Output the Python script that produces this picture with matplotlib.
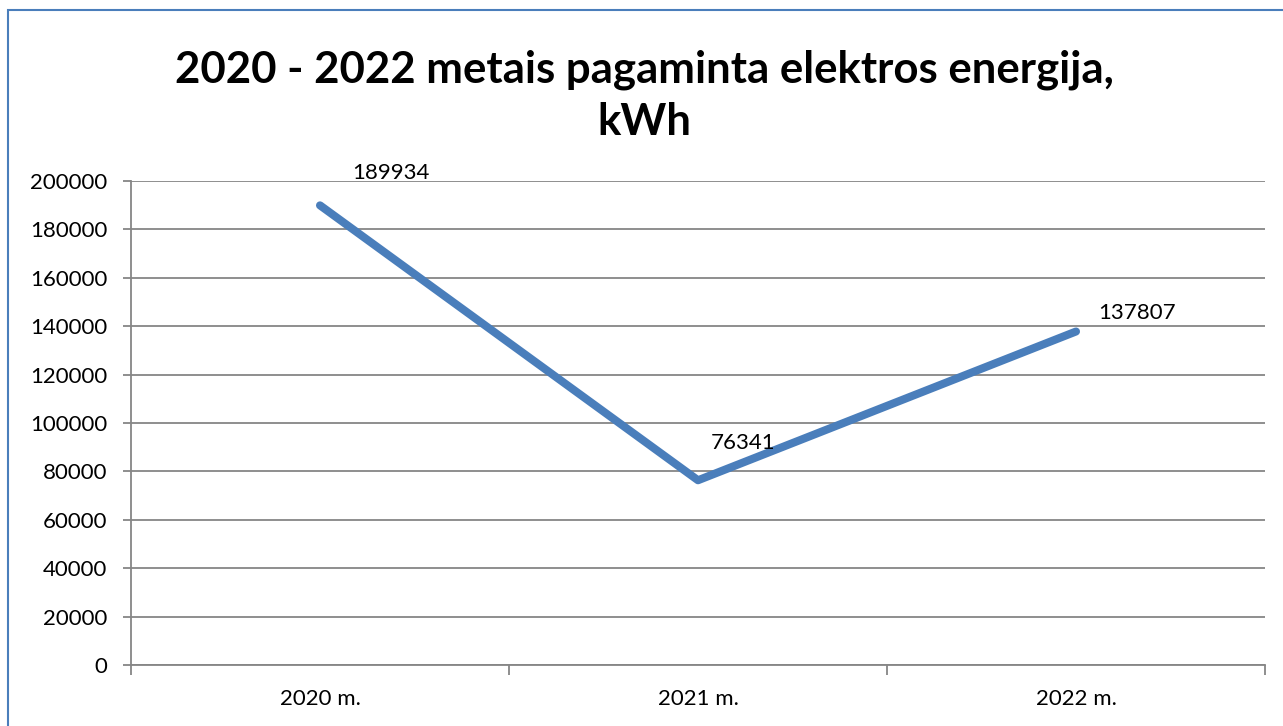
import matplotlib.pyplot as plt
from matplotlib.patches import Rectangle

# duomenys
years = ["2020 m.", "2021 m.", "2022 m."]
energy_kwh = [189934, 76341, 137807]
y_ticks = list(range(0, 200001, 20000))

plt.rcParams['font.family'] = ['Lato', 'DejaVu Sans']

fig = plt.figure(figsize=(12.83, 7.26), dpi=100)
ax = fig.add_axes([131 / 1283, 1 - 665 / 726, 1134 / 1283, 484 / 726])

x = [i + 0.5 for i in range(len(years))]
ax.plot(x, energy_kwh, color='#4A7EBB', lw=5.8, solid_capstyle='round', zorder=3)

# reiksmiu etiketes
label_offsets = [(23, 23), (9, 27), (16, 13)]
for xi, v, off in zip(x, energy_kwh, label_offsets):
    ax.annotate(str(v), (xi, v), xytext=off, textcoords='offset points',
                fontsize=16, ha='left', va='center', zorder=4)

ax.set_xlim(0, len(years))
ax.set_ylim(0, 200000)
ax.set_yticks(y_ticks)
ax.set_yticklabels([str(t) for t in y_ticks], fontsize=16)
ax.set_xticks(range(len(years) + 1))
ax.set_xticklabels([])
ax.set_xticks(x, minor=True)
ax.set_xticklabels(years, minor=True, fontsize=16)
ax.tick_params(axis='x', which='major', length=7, width=1.3, color='#868686')
ax.tick_params(axis='x', which='minor', length=0, pad=17)
ax.tick_params(axis='y', length=6, width=1.3, color='#868686', pad=11)

ax.grid(axis='y', color='#868686', lw=1.3)
ax.set_axisbelow(True)
for s in ['top', 'right']:
    ax.spines[s].set_visible(False)
for s in ['left', 'bottom']:
    ax.spines[s].set_color('#868686')
    ax.spines[s].set_linewidth(1.3)

fig.text(644 / 1283, 1 - 96 / 726, "2020 - 2022 metais pagaminta elektros energija,\nkWh",
         ha='center', va='center', fontsize=31.5, fontweight='bold', linespacing=1.36)

# remelis
fig.patches.append(Rectangle((8 / 1283, -0.1), 1.2, 1 - 10 / 726 + 0.1,
                             transform=fig.transFigure, fill=False,
                             edgecolor='#4A7EBB', lw=1.5))

fig.savefig("out.png", dpi=100)
